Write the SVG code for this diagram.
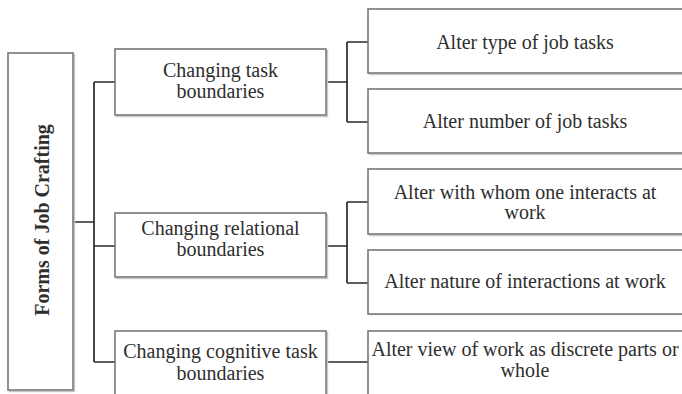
<svg xmlns="http://www.w3.org/2000/svg" width="682" height="394" viewBox="0 0 682 394">
<style>
.box{fill:#fff;stroke:#777;stroke-width:1.6}
.sh{fill:none;stroke:#c8c8c8;stroke-width:1.4}
.t{font-size:20px;fill:#2e2e2e;text-anchor:middle}
.b{font-weight:bold}
.c{fill:none;stroke:#2a2a2a;stroke-width:1.7}
</style>
<rect width="682" height="394" fill="#fff"/>
<g id="connectors">
<path class="c" d="M73 222H94M94 82V362M94 82H115M94 246H115M94 362H115"/>
<path class="c" d="M326 82H347M347 42V122M347 42H368M347 122H368"/>
<path class="c" d="M326 246H347M347 202V283M347 202H368M347 283H368"/>
<path class="c" d="M326 362H368"/>
</g>
<g font-family="'Liberation Serif', Tinos, 'DejaVu Serif', serif">
<g id="root">
<rect class="sh" x="9.5" y="54.5" width="65" height="337"/>
<rect class="box" x="8" y="53" width="65" height="337"/>
<text class="t b" transform="translate(49,220) rotate(-90)">Forms of Job Crafting</text>
</g>
<g id="task">
<rect class="sh" x="116.5" y="50.5" width="211" height="66"/>
<rect class="box" x="115" y="49" width="211" height="66"/>
<text class="t" x="220.5" y="77">Changing task</text>
<text class="t" x="220.5" y="98">boundaries</text>
</g>
<g id="relational">
<rect class="sh" x="116.5" y="214.5" width="211" height="64"/>
<rect class="box" x="115" y="213" width="211" height="64"/>
<text class="t" x="220.5" y="235">Changing relational</text>
<text class="t" x="220.5" y="256">boundaries</text>
</g>
<g id="cognitive">
<rect class="sh" x="116.5" y="332.5" width="211" height="70"/>
<rect class="box" x="115" y="331" width="211" height="70"/>
<text class="t" x="220.5" y="358">Changing cognitive task</text>
<text class="t" x="220.5" y="380">boundaries</text>
</g>
<g id="type">
<rect class="sh" x="369.5" y="10.5" width="316" height="64"/>
<rect class="box" x="368" y="9" width="316" height="64"/>
<text class="t" x="525" y="49">Alter type of job tasks</text>
</g>
<g id="number">
<rect class="sh" x="369.5" y="90.5" width="316" height="64"/>
<rect class="box" x="368" y="89" width="316" height="64"/>
<text class="t" x="525" y="128">Alter number of job tasks</text>
</g>
<g id="whom">
<rect class="sh" x="369.5" y="170.5" width="316" height="65"/>
<rect class="box" x="368" y="169" width="316" height="65"/>
<text class="t" x="525" y="199">Alter with whom one interacts at</text>
<text class="t" x="525" y="219">work</text>
</g>
<g id="nature">
<rect class="sh" x="369.5" y="251.5" width="316" height="63"/>
<rect class="box" x="368" y="250" width="316" height="64"/>
<text class="t" x="525" y="288">Alter nature of interactions at work</text>
</g>
<g id="view">
<rect class="sh" x="369.5" y="332.5" width="316" height="70"/>
<rect class="box" x="368" y="331" width="316" height="70"/>
<text class="t" x="525" y="356">Alter view of work as discrete parts or</text>
<text class="t" x="525" y="377">whole</text>
</g>
</g>
</svg>
